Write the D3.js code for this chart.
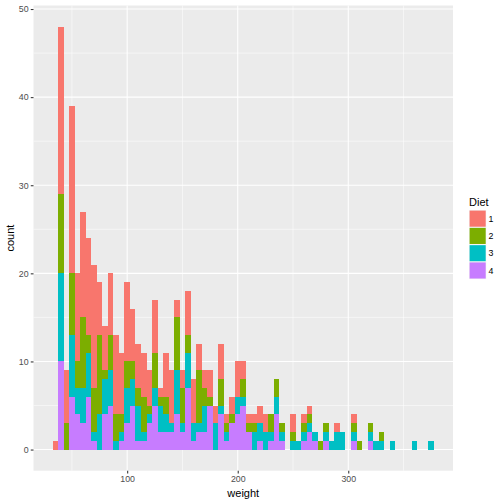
<!DOCTYPE html>
<html>
<head>
<meta charset="utf-8">
<script src="https://cdn.jsdelivr.net/npm/d3@7"></script>
<style>
  body { margin: 0; background: #fff; }
  text { font-family: "Liberation Sans", Arial, sans-serif; }
</style>
</head>
<body>
<div id="chart"></div>
<script>
// bin centres (binwidth 5) and counts per Diet
var binCenters = [35, 40, 45, 50, 55, 60, 65, 70, 75, 80, 85, 90, 95, 100, 105, 110, 115, 120, 125, 130,
  135, 140, 145, 150, 155, 160, 165, 170, 175, 180, 185, 190, 195, 200, 205, 210, 215, 220, 225, 230,
  235, 240, 245, 250, 255, 260, 265, 270, 275, 280, 285, 290, 295, 300, 305, 310, 315, 320, 325, 330,
  335, 340, 345, 350, 355, 360, 365, 370, 375];
var diet1 = [1, 19, 6, 19, 10, 12, 11, 14, 6, 5, 7, 9, 7, 9, 6, 5, 5, 4, 6, 1,
  5, 6, 2, 2, 5, 5, 3, 2, 3, 2, 4, 1, 2, 4, 2, 1, 1, 2, 2, 0,
  0, 0, 0, 2, 0, 1, 1, 0, 0, 0, 0, 1, 0, 0, 1, 0, 0, 0, 0, 0,
  0, 0, 0, 0, 0, 0, 0, 0, 0];
var diet2 = [0, 9, 3, 7, 3, 8, 2, 5, 9, 1, 4, 3, 2, 3, 2, 2, 4, 1, 4, 1,
  2, 0, 6, 4, 2, 0, 6, 2, 1, 0, 3, 1, 1, 0, 2, 1, 1, 0, 0, 2,
  2, 1, 0, 1, 0, 1, 1, 0, 1, 1, 0, 0, 0, 0, 1, 1, 0, 1, 0, 1,
  0, 0, 0, 0, 0, 0, 0, 0, 0];
var diet3 = [0, 10, 0, 7, 3, 4, 5, 1, 4, 4, 4, 1, 1, 4, 3, 4, 1, 1, 2, 3,
  2, 1, 5, 1, 4, 2, 1, 3, 0, 3, 1, 1, 0, 2, 1, 0, 2, 2, 2, 1,
  2, 1, 0, 1, 1, 1, 1, 1, 0, 1, 1, 2, 2, 0, 1, 0, 0, 1, 1, 1,
  0, 1, 0, 0, 0, 1, 0, 0, 1];
var diet4 = [0, 10, 0, 6, 4, 3, 6, 1, 0, 4, 5, 0, 1, 3, 5, 1, 1, 3, 5, 2,
  2, 2, 4, 2, 7, 1, 2, 2, 5, 0, 4, 1, 3, 4, 5, 2, 0, 1, 0, 1,
  4, 1, 0, 0, 0, 1, 2, 1, 0, 1, 0, 0, 0, 0, 1, 0, 0, 1, 0, 0,
  0, 0, 0, 0, 0, 0, 0, 0, 0];
var diets = ["1", "2", "3", "4"];
var dietColors = ["#F8766D", "#7CAE00", "#00BFC4", "#C77CFF"];
var xTicks = [100, 200, 300];
var xMinor = [50, 150, 250, 350];
var yTicks = [0, 10, 20, 30, 40, 50];
var yMinor = [5, 15, 25, 35, 45];
var binWidth = 5;

var width = 504, height = 504;
var panel = {left: 33.5, right: 453, top: 5.5, bottom: 470.7};

var table = binCenters.map(function (c, i) {
  return {center: c, "1": diet1[i], "2": diet2[i], "3": diet3[i], "4": diet4[i]};
});

// ggplot stacks the first level on top
var stack = d3.stack().keys(["4", "3", "2", "1"]);
var series = stack(table);

var xLo = binCenters[0] - binWidth / 2, xHi = binCenters[binCenters.length - 1] + binWidth / 2;
var xPad = (xHi - xLo) * 0.05;
var yMax = d3.max(table, function (d) { return d["1"] + d["2"] + d["3"] + d["4"]; });

var x = d3.scaleLinear().domain([xLo - xPad, xHi + xPad]).range([panel.left, panel.right]);
var y = d3.scaleLinear().domain([-yMax * 0.05, yMax * 1.05]).range([panel.bottom, panel.top]);
var color = d3.scaleOrdinal().domain(diets).range(dietColors);

var svg = d3.select("#chart").append("svg")
  .attr("width", width)
  .attr("height", height);

svg.append("rect")
  .attr("x", panel.left).attr("y", panel.top)
  .attr("width", panel.right - panel.left)
  .attr("height", panel.bottom - panel.top)
  .attr("fill", "#EBEBEB");

// minor grid
svg.append("g").selectAll("line").data(xMinor).enter().append("line")
  .attr("x1", d => x(d)).attr("x2", d => x(d))
  .attr("y1", panel.top).attr("y2", panel.bottom)
  .attr("stroke", "#fff").attr("stroke-width", 0.53);
svg.append("g").selectAll("line").data(yMinor).enter().append("line")
  .attr("y1", d => y(d)).attr("y2", d => y(d))
  .attr("x1", panel.left).attr("x2", panel.right)
  .attr("stroke", "#fff").attr("stroke-width", 0.53);
// major grid
svg.append("g").selectAll("line").data(xTicks).enter().append("line")
  .attr("x1", d => x(d)).attr("x2", d => x(d))
  .attr("y1", panel.top).attr("y2", panel.bottom)
  .attr("stroke", "#fff").attr("stroke-width", 1.07);
svg.append("g").selectAll("line").data(yTicks).enter().append("line")
  .attr("y1", d => y(d)).attr("y2", d => y(d))
  .attr("x1", panel.left).attr("x2", panel.right)
  .attr("stroke", "#fff").attr("stroke-width", 1.07);

// bars
svg.append("g")
  .attr("shape-rendering", "crispEdges")
  .selectAll("g")
  .data(series)
  .enter().append("g")
    .attr("fill", d => color(d.key))
  .selectAll("rect")
  .data(d => d.filter(s => s[1] > s[0]))
  .enter().append("rect")
    .attr("x", d => x(d.data.center - binWidth / 2))
    .attr("width", d => x(d.data.center + binWidth / 2) - x(d.data.center - binWidth / 2))
    .attr("y", d => y(d[1]))
    .attr("height", d => y(d[0]) - y(d[1]));

// axes
var xAxis = svg.append("g")
  .attr("transform", "translate(0," + panel.bottom + ")")
  .call(d3.axisBottom(x).tickValues(xTicks).tickSize(2.74).tickPadding(2.4).tickFormat(d3.format("d")));
var yAxis = svg.append("g")
  .attr("transform", "translate(" + panel.left + ",0)")
  .call(d3.axisLeft(y).tickValues(yTicks).tickSize(2.74).tickPadding(2.2));
[xAxis, yAxis].forEach(function (a) {
  a.select(".domain").remove();
  a.selectAll(".tick line").attr("stroke", "#333333").attr("stroke-width", 1.07);
  a.selectAll(".tick text")
    .attr("fill", "#4D4D4D")
    .style("font-size", "8.8px")
    .style("font-family", "'Liberation Sans', Arial, sans-serif");
});

svg.append("text")
  .attr("x", (panel.left + panel.right) / 2)
  .attr("y", 497)
  .attr("text-anchor", "middle")
  .style("font-size", "11px")
  .text("weight");
svg.append("text")
  .attr("transform", "translate(14," + (panel.top + panel.bottom) / 2 + ") rotate(-90)")
  .attr("text-anchor", "middle")
  .style("font-size", "11px")
  .text("count");

// legend
var legend = svg.append("g").attr("transform", "translate(469,0)");
legend.append("text")
  .attr("x", 0).attr("y", 205.5)
  .style("font-size", "11px")
  .text("Diet");
var keys = legend.selectAll("g.key").data(diets).enter().append("g")
  .attr("class", "key")
  .attr("transform", (d, i) => "translate(0," + (210 + i * 17.28) + ")");
keys.append("rect")
  .attr("width", 17.28).attr("height", 17.28)
  .attr("fill", "#F2F2F2");
keys.append("rect")
  .attr("x", 0.6).attr("y", 0.6)
  .attr("width", 16.1).attr("height", 16.1)
  .attr("fill", d => color(d));
keys.append("text")
  .attr("x", 19.5).attr("y", 8.64)
  .attr("dy", "0.35em")
  .attr("fill", "#000")
  .style("font-size", "8.8px")
  .text(d => d);
</script>
</body>
</html>
